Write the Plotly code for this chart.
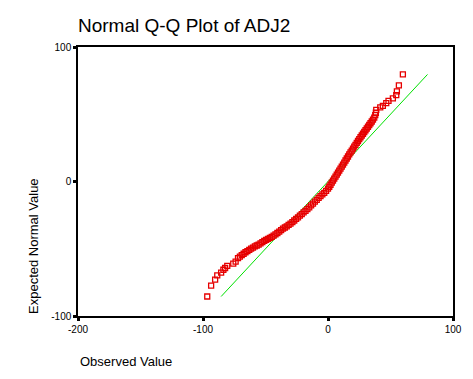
import plotly.graph_objects as go

observed = [
    -96.6, -93.5, -90.3, -88.6, -85.5, -83.7, -82.3, -80.6, -75.8, -73.9,
    -72.0, -70.5, -69.0, -67.5, -66.0, -64.5, -63.0, -61.5, -60.0, -58.5,
    -57.0, -55.5, -54.0, -52.5, -51.0, -49.5, -48.0, -46.5, -45.0, -43.5,
    -42.0, -40.5, -39.0, -37.5, -36.0, -34.5, -33.0, -31.5, -30.0, -28.5,
    -27.0, -25.5, -24.0, -22.5, -21.0, -19.5, -18.0, -16.5, -15.0, -13.5,
    -12.0, -10.5, -9.0, -7.5, -6.0, -4.5, -3.0, -1.5, 0.0, 1.0,
    2.0, 3.0, 4.0, 5.0, 6.0, 7.0, 8.0, 9.0, 10.0, 11.0,
    12.0, 13.0, 14.0, 15.0, 16.0, 17.0, 18.0, 19.0, 20.0, 21.0,
    22.0, 23.0, 24.0, 25.0, 26.0, 27.0, 28.0, 29.0, 30.0, 31.0,
    32.0, 33.0, 34.0, 35.0, 36.0, 37.0, 37.8, 38.3,
    38.6, 41.8, 43.9, 46.6, 48.4, 51.9, 54.6, 55.1, 56.7, 59.9,
]
expected = [
    -85.5, -77.4, -72.9, -69.8, -67.7, -65.6, -64.3, -62.8, -61.0, -59.5,
    -57.0, -55.9, -54.8, -53.7, -52.6, -51.7, -50.8, -49.9, -49.1, -48.3,
    -47.6, -46.9, -46.0, -45.1, -44.2, -43.4, -42.6, -41.9, -41.1, -40.2,
    -39.3, -38.3, -37.2, -36.1, -35.1, -34.2, -33.3, -32.3, -31.3, -30.2,
    -29.0, -27.8, -26.6, -25.4, -24.2, -23.0, -21.8, -20.5, -19.2, -17.8,
    -16.4, -15.0, -13.6, -12.2, -10.9, -9.6, -8.4, -7.0, -5.3, -3.9,
    -2.4, -0.9, 0.6, 2.1, 3.6, 5.1, 6.6, 8.1, 9.6, 11.1,
    12.6, 14.1, 15.6, 17.1, 18.6, 20.1, 21.6, 23.0, 24.5, 25.9,
    27.3, 28.7, 30.1, 31.5, 32.9, 34.2, 35.5, 36.8, 38.1, 39.4,
    40.7, 42.0, 43.3, 44.6, 46.0, 47.5, 49.3, 51.1,
    53.3, 55.1, 56.3, 58.3, 60.0, 61.8, 64.2, 67.0, 71.4, 79.6,
]

x_ticks = [-200, -100, 0, 100]
y_ticks = [-100, 0, 100]

line_ends = [min(expected), max(expected)]

# page body has an 8px margin; compensate so the plot lands where the reference has it
OFF = 8
L, T = 78 - OFF, 47 - OFF
PW, PH = 375, 269
W, H = 473 - OFF, 379 - OFF

fig = go.Figure()
fig.add_trace(go.Scatter(
    x=line_ends, y=line_ends, mode="lines",
    line=dict(color="rgb(0,225,0)", width=1), hoverinfo="skip",
))
fig.add_trace(go.Scatter(
    x=observed, y=expected, mode="markers",
    marker=dict(symbol="square-open", size=5, color="rgb(230,0,0)",
                line=dict(width=1.3, color="rgb(230,0,0)")),
))

axis_common = dict(
    showgrid=False, zeroline=False, showline=True, mirror=True,
    linecolor="black", linewidth=1.5, ticks="outside", ticklen=3,
    tickwidth=3, tickcolor="black",
    tickfont=dict(family="Liberation Sans, Arial", size=10, color="black"),
)

fig.update_layout(
    width=W, height=H,
    margin=dict(l=L, r=W - L - PW, t=T, b=H - T - PH, pad=0),
    paper_bgcolor="white", plot_bgcolor="white",
    showlegend=False,
    title=dict(text="Normal Q-Q Plot of ADJ2", x=L / W, xanchor="left",
               xref="container", y=1 - (25 - OFF) / H, yanchor="middle", yref="container",
               font=dict(family="Liberation Sans, Arial", size=19, color="black")),
    xaxis=dict(range=[-200, 100], tickvals=x_ticks, ticktext=[str(v) for v in x_ticks],
               **axis_common),
    yaxis=dict(range=[-100, 100], tickvals=y_ticks, ticktext=[str(v) for v in y_ticks],
               **axis_common),
    annotations=[
        dict(text="Observed Value", xref="paper", yref="paper", x=0, y=(316 - 361) / PH,
             xanchor="left", yanchor="middle", showarrow=False,
             font=dict(family="Liberation Sans, Arial", size=13, color="black")),
        dict(text="Expected Normal Value", xref="paper", yref="paper",
             x=(33 - 78) / PW, y=0, xanchor="center", yanchor="bottom",
             textangle=-90, showarrow=False,
             font=dict(family="Liberation Sans, Arial", size=13, color="black")),
    ],
)

fig.write_html("out.html")
